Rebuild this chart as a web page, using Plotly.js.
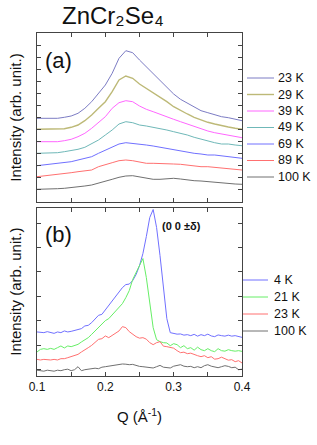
<!DOCTYPE html>
<html>
<head>
<meta charset="utf-8">
<script src="https://cdn.plot.ly/plotly-3.0.1.min.js"></script>
<style>html,body{margin:0;padding:0;background:#fff;}#chart{width:317px;height:445px;}</style>
</head>
<body>
<div id="chart"></div>
<script>
// ---------- DATA ----------
// Panel (a): Q values (1/Angstrom)
const qA = [0.10,0.11,0.12,0.13,0.14,0.15,0.16,0.17,0.18,0.19,0.20,0.21,0.22,0.23,0.24,0.25,0.26,0.27,0.28,0.29,0.30,0.31,0.32,0.33,0.34,0.35,0.36,0.37,0.38,0.39,0.40];
// Panel (a) intensities (arb. units, offset curves)
const a23K  = [83.7,83.7,83.7,83.7,84.7,86,88.7,93.7,100.3,108.7,117,128.7,143.7,151.3,149.3,142,135.3,128,121.3,114.7,108,102.7,98.7,94.7,91.3,89.3,87,85.3,84.3,82.7,81.3];
const a29K  = [72.7,72.7,72.7,72.7,73.3,74.7,77,81.3,87,93.7,100.3,110.3,122,126,123.7,118,113.7,109.3,104.7,100.3,95.3,91.3,88,84.7,82,79.7,78,76.3,75,73.7,72.7];
const a39K  = [60.3,60.3,60.3,60.3,61.3,62.7,65.3,68.7,73.7,79.3,85.3,93.7,99.3,101.3,100.3,96,92.7,90.3,88,85.3,82.7,80.3,78,75.3,72.7,71,69.3,68,67,65.3,64.3];
const a49K  = [48.7,48.7,48.7,49.3,50.3,51.3,52.7,54.7,58,62,67,72,78,80.3,79.3,77,76,74.7,73.7,72,70.3,68.7,67,64.7,62.7,61.3,59.3,58,58,57,56.3];
const a69K  = [36.3,37,37.7,38.7,39.7,40.3,42,43.7,45.3,48.7,52,55.3,58,59.3,58.7,58,57,56,54.7,53.7,52,51.3,50,48.7,48,47,47,46,45.3,44.7,43.7];
const a89K  = [25.3,26,27,27.7,28.7,29.3,30.3,31.3,32,35.3,37,39.3,41.3,42,41.3,40.3,38.7,38.7,38.7,38.7,38,37.7,36.7,36,35.3,35.3,34.7,34.3,33.7,32.7,32];
const a100K = [12.7,12.7,13,13.3,13.7,14.3,15.3,16,17,18.7,20.3,22.7,24.7,26,26.3,25.3,23.7,22.7,22.7,23,23.7,23,22,21.3,21,20.3,19.7,19,18.7,18,17.7];
const labelsA = ['23 K','29 K','39 K','49 K','69 K','89 K','100 K'];

// Panel (b): Q values
const qB = [0.100,0.105,0.110,0.115,0.120,0.125,0.130,0.135,0.140,0.145,0.150,0.155,0.160,0.165,0.170,0.175,0.180,0.185,0.190,0.195,0.200,0.205,0.210,0.215,0.220,0.225,0.230,0.235,0.240,0.245,0.250,0.255,0.260,0.265,0.270,0.275,0.280,0.285,0.290,0.295,0.300,0.305,0.310,0.315,0.320,0.325,0.330,0.335,0.340,0.345,0.350,0.355,0.360,0.365,0.370,0.375,0.380,0.385,0.390,0.395,0.400];
const b4K   = [43.7,43.3,43,44,43.3,42.3,43.7,43,44.7,43.7,44.3,45,46.3,47,49.7,50.3,53,56.3,60.3,61.3,65.7,69.7,73.7,78,83,88,91,91.5,95,101,110,122,139,158,166,148,120,87,57,43,42,41.5,41.7,40.5,41,40,41.3,39.5,41,40,41.5,39.7,39,40.7,40,39.5,40.5,39.5,40,39,38.3];
const b21K  = [23.7,26.3,27,26.3,27.3,26.3,28,29.7,27.7,29.7,29,30.3,31.3,33.7,35.7,38,41.3,44.7,48,52,55,57,61,65,68.5,72,78,85,96,103,110,117,98,72,48,36,34,33,32.7,30,32,31,28,30,27,28,25.5,28.5,26,25,27,25,24,27,25,24.5,26,25,24.5,25,24.3];
const b23K  = [16.3,15.7,16.3,16,15.7,16.3,15.7,17,17,18,19,20.3,21.3,23.7,26.3,28,30.3,33,36.3,37,39.7,38,40.3,43,44.7,49,48,44,41.5,39,37.5,38,36.5,33,31,33,34,29.5,29,28,27.5,25,23,23.5,22,22.5,21,20,19,20,18,19,16.5,17,18.5,17.3,15.5,16,14,15,12.7];
const b100K = [5.5,5,4.5,5.5,4.7,4.5,5.5,5,6,6.5,5,6,9,5,6,6.3,7,7.5,7,8.5,9,9.5,10.5,11,11.5,11.7,11.5,11,11.3,10,9.3,9,8.5,8,7.7,9,10.3,8.5,8,7.7,9.5,10,11,9.5,9,9.3,8,9,8,10,11,9.5,9,8,9,10,9.3,8,8.5,6,6.5];
const labelsB = ['4 K','21 K','23 K','100 K'];

const xTickVals = [0.1,0.15,0.2,0.25,0.3,0.35,0.4];
const xTickText = ['0.1','','0.2','','0.3','','0.4'];

// ---------- STYLE ----------
const W = 317, H = 445;
const FONT = 'Arial, "Liberation Sans", sans-serif';
const AX = '#444';
const colorsA = ['#7c7cc4','#bdb977','#ff66ff','#6fb8b8','#7070ff','#ff7070','#707070'];
const widthsA = [1,1.4,1,1,1,1,1];
const colorsB = ['#7070ff','#66ee66','#ff7070','#707070'];
const seriesA = [a23K,a29K,a39K,a49K,a69K,a89K,a100K];
const seriesB = [b4K,b21K,b23K,b100K];

const traces = [];
seriesA.forEach((ys,i)=>traces.push({x:qA,y:ys,type:'scatter',mode:'lines',name:labelsA[i],
  xaxis:'x2',yaxis:'y2',line:{color:colorsA[i],width:widthsA[i]},showlegend:false}));
seriesB.forEach((ys,i)=>traces.push({x:qB,y:ys,type:'scatter',mode:'lines',name:labelsB[i],
  xaxis:'x',yaxis:'y',line:{color:colorsB[i],width:1},showlegend:false}));

const px = v => v / W, py = v => 1 - v / H;
const shapes = [], annotations = [];
labelsA.forEach((t,i)=>{
  const yy = 78 + 16.5*i;
  shapes.push({type:'line',xref:'paper',yref:'paper',x0:px(247),x1:px(274),y0:py(yy),y1:py(yy),line:{color:colorsA[i],width:widthsA[i]}});
  annotations.push({xref:'paper',yref:'paper',x:px(276),y:py(yy),text:t,showarrow:false,xanchor:'left',yanchor:'middle',font:{family:FONT,size:12.5,color:'#111'}});
});
labelsB.forEach((t,i)=>{
  const yy = 280 + 17*i;
  shapes.push({type:'line',xref:'paper',yref:'paper',x0:px(243),x1:px(268),y0:py(yy),y1:py(yy),line:{color:colorsB[i],width:1}});
  annotations.push({xref:'paper',yref:'paper',x:px(272),y:py(yy),text:t,showarrow:false,xanchor:'left',yanchor:'middle',font:{family:FONT,size:12.5,color:'#111'}});
});
annotations.push({xref:'paper',yref:'paper',x:px(43),y:py(60),text:'(a)',showarrow:false,xanchor:'left',yanchor:'middle',font:{family:FONT,size:22,color:'#111'}});
annotations.push({xref:'paper',yref:'paper',x:px(43),y:py(234),text:'(b)',showarrow:false,xanchor:'left',yanchor:'middle',font:{family:FONT,size:22,color:'#111'}});
annotations.push({xref:'paper',yref:'paper',x:px(160),y:py(226),text:'<b>(0 0 ±δ)</b>',showarrow:false,xanchor:'left',yanchor:'middle',font:{family:FONT,size:11,color:'#111'}});

const xCommon = {range:[0.1,0.4],tickmode:'array',tickvals:xTickVals,ticks:'inside',ticklen:4,tickcolor:AX,
  showline:true,linecolor:AX,linewidth:1,mirror:'ticks',showgrid:false,zeroline:false,domain:[px(37),px(242)]};
const yCommon = {ticks:'inside',ticklen:4,tickcolor:AX,showline:true,linecolor:AX,linewidth:1,mirror:'ticks',
  showgrid:false,zeroline:false,showticklabels:false};

const layout = {
  width:W,height:H,margin:{l:0,r:0,t:0,b:0},paper_bgcolor:'#fff',plot_bgcolor:'#fff',
  font:{family:FONT,color:'#111'},
  title:{text:'ZnCr₂Se₄',x:px(62),xanchor:'left',xref:'container',y:py(16),yanchor:'middle',yref:'container',
    font:{family:FONT,size:24,color:'#111'}},
  xaxis:Object.assign({},xCommon,{anchor:'y',ticktext:xTickText,tickfont:{family:FONT,size:12,color:'#111'},
    title:{text:'Q (Å<sup>-1</sup>)',standoff:18,font:{family:FONT,size:15,color:'#111'}}}),
  yaxis:Object.assign({},yCommon,{anchor:'x',domain:[py(375.7),py(207.5)],range:[0,168],tick0:6,dtick:24.4,
    title:{text:'Intensity (arb. unit.)',standoff:10,font:{family:FONT,size:15,color:'#111'}}}),
  xaxis2:Object.assign({},xCommon,{anchor:'y2',ticktext:xTickText,showticklabels:false}),
  yaxis2:Object.assign({},yCommon,{anchor:'x2',domain:[py(202),py(33)],range:[0,169],tick0:0,dtick:12.07,
    title:{text:'Intensity (arb. unit.)',standoff:10,font:{family:FONT,size:15,color:'#111'}}}),
  shapes:shapes,annotations:annotations
};
Plotly.newPlot('chart',traces,layout,{staticPlot:true,displayModeBar:false});
</script>
</body>
</html>
